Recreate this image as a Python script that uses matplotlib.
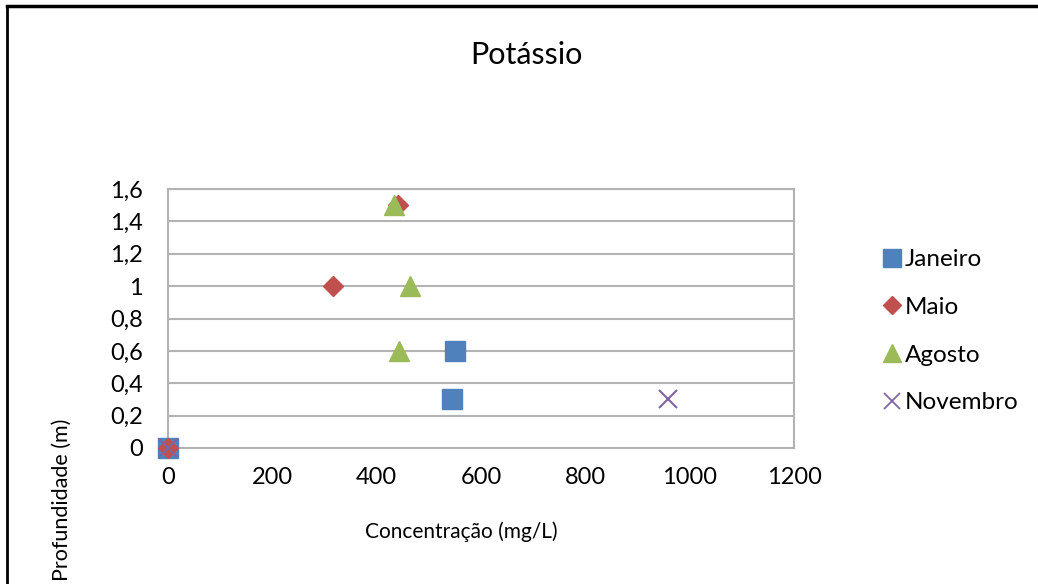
import matplotlib
matplotlib.use("Agg")
import matplotlib.pyplot as plt
from matplotlib.lines import Line2D
from matplotlib.ticker import FuncFormatter

plt.rcParams['font.family'] = ['Lato', 'DejaVu Sans']

# Potassium concentration (mg/L) by depth (m), per sampling month
jan_x = [0, 545, 551]
jan_y = [0, 0.3, 0.6]
mai_x = [0, 317, 441]
mai_y = [0, 1.0, 1.5]
ago_x = [443, 464, 434]
ago_y = [0.6, 1.0, 1.5]
nov_x = [0, 959]
nov_y = [0, 0.3]

series_names = ["Janeiro", "Maio", "Agosto", "Novembro"]
x_ticks = [0, 200, 400, 600, 800, 1000, 1200]
y_ticks = [0, 0.2, 0.4, 0.6, 0.8, 1.0, 1.2, 1.4, 1.6]

W, H = 1038, 584
fig = plt.figure(figsize=(W / 100, H / 100), dpi=100)
ax = fig.add_axes([168 / W, 1 - 448 / H, 626 / W, 259 / H])

grid_c = "#B3B3B3"
ax.set_xlim(0, 1200)
ax.set_ylim(0, 1.6)
ax.set_xticks(x_ticks)
ax.set_yticks(y_ticks)
ax.yaxis.set_major_formatter(FuncFormatter(lambda v, p: ("%g" % round(v, 1)).replace(".", ",")))
ax.grid(axis="y", color=grid_c, linewidth=1.5)
ax.set_axisbelow(True)
for s in ax.spines.values():
    s.set_color(grid_c)
    s.set_linewidth(1.5)
ax.tick_params(length=0, labelsize=17, pad=14)
ax.tick_params(axis="y", pad=18)

ax.plot(jan_x, jan_y, ls="none", marker="s", ms=14.4, color="#4F81BD", clip_on=False, zorder=3)
ax.plot(mai_x, mai_y, ls="none", marker="D", ms=10.5, color="#C0504D", clip_on=False, zorder=3)
ax.plot(ago_x, ago_y, ls="none", marker="^", ms=14.4, color="#9BBB59", clip_on=False, zorder=3)
ax.plot(nov_x, nov_y, ls="none", marker="x", ms=13, mew=1.5, color="#8064A2", clip_on=False, zorder=3)

handles = [
    Line2D([], [], ls="none", marker="s", ms=12.5, color="#4F81BD"),
    Line2D([], [], ls="none", marker="D", ms=9, color="#C0504D"),
    Line2D([], [], ls="none", marker="^", ms=13, color="#9BBB59"),
    Line2D([], [], ls="none", marker="x", ms=12, mew=1.3, color="#8064A2"),
]
fig.legend(handles, series_names, loc="upper left", bbox_to_anchor=(882 / W, 1 - 249 / H),
           frameon=False, fontsize=17.5, handlelength=0.8, handletextpad=0.15,
           labelspacing=1.1, borderpad=0, borderaxespad=0)

fig.text(526 / W, 1 - 55 / H, "Potássio", ha="center", va="center", fontsize=22)
fig.text(461 / W, 1 - 532 / H, "Concentração (mg/L)", ha="center", va="center", fontsize=15)
fig.text(62 / W, 1 - 500 / H, "Profundidade (m)", ha="center", va="center", rotation=90, fontsize=15.5)

# outer chart frame (top and left edges)
fig.add_artist(Line2D([7 / W, 7 / W], [0, 1 - 6 / H], transform=fig.transFigure, color="black", lw=2))
fig.add_artist(Line2D([7 / W, 1], [1 - 6 / H, 1 - 6 / H], transform=fig.transFigure, color="black", lw=2.5))

fig.savefig("out.png", dpi=100, facecolor="white")
